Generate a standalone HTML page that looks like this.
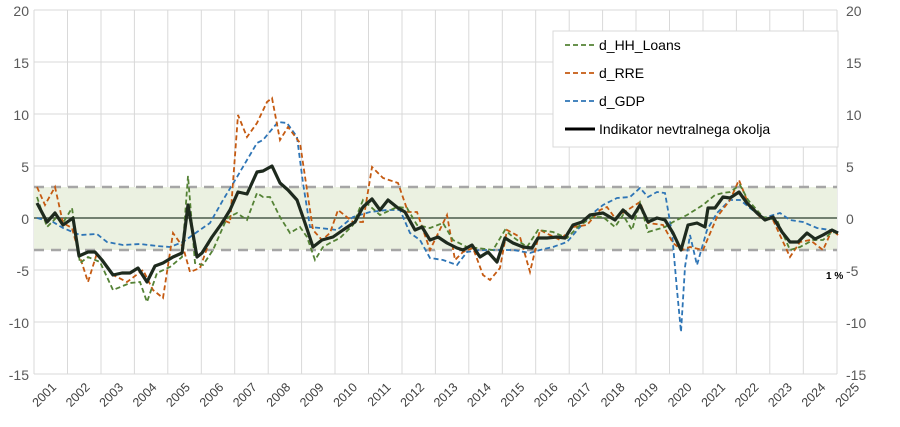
<!DOCTYPE html>
<html><head><meta charset="utf-8"><style>
body{margin:0;background:#fff;}
svg text{font-family:"Liberation Sans",sans-serif;}
</style></head><body>
<svg width="900" height="422" viewBox="0 0 900 422" xmlns="http://www.w3.org/2000/svg">
<g stroke="#d9d9d9" stroke-width="1">
<line x1="34" y1="10" x2="837" y2="10"/><line x1="34" y1="62" x2="837" y2="62"/><line x1="34" y1="114" x2="837" y2="114"/><line x1="34" y1="166" x2="837" y2="166"/><line x1="34" y1="270" x2="837" y2="270"/><line x1="34" y1="322" x2="837" y2="322"/><line x1="34" y1="374" x2="837" y2="374"/>
<line x1="34" y1="10" x2="34" y2="374"/><line x1="67.5" y1="10" x2="67.5" y2="374"/><line x1="101" y1="10" x2="101" y2="374"/><line x1="134.4" y1="10" x2="134.4" y2="374"/><line x1="167.8" y1="10" x2="167.8" y2="374"/><line x1="201.3" y1="10" x2="201.3" y2="374"/><line x1="234.7" y1="10" x2="234.7" y2="374"/><line x1="268.2" y1="10" x2="268.2" y2="374"/><line x1="301.6" y1="10" x2="301.6" y2="374"/><line x1="335" y1="10" x2="335" y2="374"/><line x1="368.5" y1="10" x2="368.5" y2="374"/><line x1="402" y1="10" x2="402" y2="374"/><line x1="435.4" y1="10" x2="435.4" y2="374"/><line x1="468.8" y1="10" x2="468.8" y2="374"/><line x1="502.3" y1="10" x2="502.3" y2="374"/><line x1="535.7" y1="10" x2="535.7" y2="374"/><line x1="569.2" y1="10" x2="569.2" y2="374"/><line x1="602.6" y1="10" x2="602.6" y2="374"/><line x1="636" y1="10" x2="636" y2="374"/><line x1="669.5" y1="10" x2="669.5" y2="374"/><line x1="703" y1="10" x2="703" y2="374"/><line x1="736.4" y1="10" x2="736.4" y2="374"/><line x1="769.8" y1="10" x2="769.8" y2="374"/><line x1="803.3" y1="10" x2="803.3" y2="374"/><line x1="837" y1="10" x2="837" y2="374"/>
</g>
<rect x="34" y="187" width="803" height="63" fill="#ebf1e1"/>
<line x1="34" y1="187" x2="837" y2="187" stroke="#a6a6a6" stroke-width="2.5" stroke-dasharray="10,7"/>
<line x1="34" y1="250" x2="837" y2="250" stroke="#a6a6a6" stroke-width="2.5" stroke-dasharray="10,7"/>
<line x1="34" y1="218" x2="837" y2="218" stroke="#4a5a4a" stroke-width="1.5"/>
<g fill="none" stroke-width="1.8" stroke-dasharray="5,3">
<polyline stroke="#2e75b6" points="37,218 53,222 63,228 80,235 97,234 107,242 123,245 140,244 157,246 170,247 183,242 197,232 210,223 223,200 237,177 257,143 263,140 278,122 287,123 297,137 303,183 310,227 320,228 337,230 353,217 370,212 387,210 400,210 410,233 420,240 430,258 443,260 457,265 467,252 480,250 497,250 513,250 530,253 540,250 553,247 567,242 580,227 593,213 603,205 617,198 630,197 640,188 648,197 657,192 665,193 672,233 677,290 681,332 685,267 690,235 697,265 707,230 717,213 730,200 740,200 750,208 763,218 780,213 790,220 803,222 817,228 830,230 838,232"/>
<polyline stroke="#c55a11" points="37,187 45,205 55,187 63,223 72,228 80,257 88,282 97,253 113,275 127,282 143,270 153,290 163,298 173,233 183,247 190,272 200,268 210,240 223,220 230,223 238,115 247,137 257,123 267,102 272,98 280,140 288,127 300,143 307,190 313,230 322,240 330,233 338,210 353,222 363,222 372,167 383,178 398,183 408,212 417,212 430,250 447,215 455,260 463,252 473,248 483,275 490,280 500,268 507,230 520,237 530,272 540,230 560,240 573,227 587,225 600,210 607,207 615,218 640,202 648,223 663,225 673,243 682,250 690,247 703,250 717,217 730,200 739,180 748,203 760,217 773,220 790,257 800,242 810,240 823,250 832,230 838,235"/>
<polyline stroke="#548235" points="37,197 47,227 57,217 63,223 72,208 80,263 88,257 100,262 113,290 130,283 140,282 147,302 157,273 170,267 182,257 188,176 195,263 203,265 213,250 227,218 237,213 247,220 257,193 263,197 270,197 280,217 290,233 300,227 307,237 315,260 323,247 330,243 340,238 353,225 363,200 380,215 397,207 407,208 417,225 430,228 443,223 453,240 467,247 477,248 493,250 505,230 513,237 527,247 538,230 553,232 567,238 580,225 593,217 603,217 615,227 623,215 632,230 640,203 648,232 665,227 673,222 687,215 703,205 715,195 723,193 730,192 740,185 748,200 763,217 777,220 790,250 800,247 813,240 823,240 832,232 838,233"/>
</g>
<polyline fill="none" stroke="#1e2a1e" stroke-width="3.2" stroke-linejoin="round" points="37,203 47,222 55,213 63,225 73,218 79,256 88,252 95,252 102,260 113,275 122,273 130,273 138,268 147,282 155,266 163,263 173,257 182,253 188,205 197,257 202,253 212,237 222,223 230,210 238,192 247,194 257,172 263,171 272,166 280,183 288,190 297,200 305,223 313,247 322,240 333,237 343,230 355,222 363,207 372,199 380,210 388,200 398,208 405,212 415,230 422,227 430,240 438,237 447,243 457,248 463,250 472,245 480,257 488,252 497,262 505,238 513,243 523,247 532,248 538,238 547,238 557,237 565,238 573,225 582,222 590,215 603,213 615,220 623,210 632,218 640,205 648,222 657,218 665,220 673,233 681,250 688,225 697,223 705,227 708,208 715,208 723,197 730,198 739,192 747,203 757,213 765,220 773,217 782,232 790,242 798,242 807,233 815,239 823,235 832,230 838,233"/>
<g font-size="14" fill="#595959">
<g text-anchor="end"><text x="29" y="16">20</text><text x="29" y="68">15</text><text x="29" y="120">10</text><text x="29" y="172">5</text><text x="29" y="224">0</text><text x="29" y="276">-5</text><text x="29" y="328">-10</text><text x="29" y="380">-15</text></g>
<g text-anchor="start"><text x="846" y="16">20</text><text x="846" y="68">15</text><text x="846" y="120">10</text><text x="846" y="172">5</text><text x="846" y="224">0</text><text x="846" y="276">-5</text><text x="846" y="328">-10</text><text x="846" y="380">-15</text></g>
</g>
<g font-size="12.5" fill="#404040" text-anchor="end">
<text transform="translate(57,388) rotate(-45)">2001</text><text transform="translate(90.5,388) rotate(-45)">2002</text><text transform="translate(124,388) rotate(-45)">2003</text><text transform="translate(157.4,388) rotate(-45)">2004</text><text transform="translate(190.8,388) rotate(-45)">2005</text><text transform="translate(224.3,388) rotate(-45)">2006</text><text transform="translate(257.7,388) rotate(-45)">2007</text><text transform="translate(291.2,388) rotate(-45)">2008</text><text transform="translate(324.6,388) rotate(-45)">2009</text><text transform="translate(358,388) rotate(-45)">2010</text><text transform="translate(391.5,388) rotate(-45)">2011</text><text transform="translate(425,388) rotate(-45)">2012</text><text transform="translate(458.4,388) rotate(-45)">2013</text><text transform="translate(491.8,388) rotate(-45)">2014</text><text transform="translate(525.3,388) rotate(-45)">2015</text><text transform="translate(558.7,388) rotate(-45)">2016</text><text transform="translate(592.2,388) rotate(-45)">2017</text><text transform="translate(625.6,388) rotate(-45)">2018</text><text transform="translate(659,388) rotate(-45)">2019</text><text transform="translate(692.5,388) rotate(-45)">2020</text><text transform="translate(726,388) rotate(-45)">2021</text><text transform="translate(759.4,388) rotate(-45)">2022</text><text transform="translate(792.8,388) rotate(-45)">2023</text><text transform="translate(826.3,388) rotate(-45)">2024</text><text transform="translate(860,388) rotate(-45)">2025</text>
</g>
<text x="826" y="279" font-size="10" font-weight="bold" fill="#000">1 %</text>
<rect x="553" y="31" width="285" height="116" fill="#fff" stroke="#d9d9d9"/>
<g font-size="14" fill="#000">
<line x1="565" y1="45" x2="595" y2="45" stroke="#548235" stroke-width="1.8" stroke-dasharray="5,3"/><text x="599" y="50">d_HH_Loans</text>
<line x1="565" y1="73" x2="595" y2="73" stroke="#c55a11" stroke-width="1.8" stroke-dasharray="5,3"/><text x="599" y="78">d_RRE</text>
<line x1="565" y1="101" x2="595" y2="101" stroke="#2e75b6" stroke-width="1.8" stroke-dasharray="5,3"/><text x="599" y="106">d_GDP</text>
<line x1="565" y1="129" x2="595" y2="129" stroke="#000" stroke-width="3"/><text x="599" y="134">Indikator nevtralnega okolja</text>
</g>
</svg>
</body></html>
